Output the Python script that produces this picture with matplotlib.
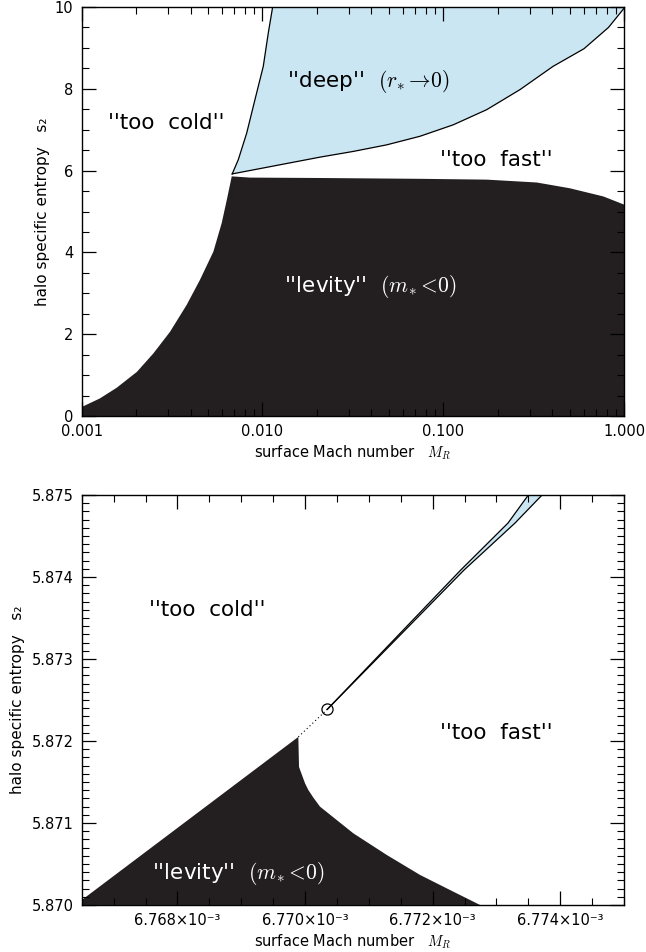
import numpy as np
import matplotlib
matplotlib.use('Agg')
import matplotlib.pyplot as plt
from matplotlib.ticker import MultipleLocator, FixedLocator, FuncFormatter, LogLocator, NullFormatter

plt.rcParams['font.family'] = 'DejaVu Sans'
plt.rcParams['mathtext.fontset'] = 'cm'

BLACK = '#231f20'
BLUE = '#cae6f2'

# ---- top panel: full range ----
# boundary "too cold" / "levity"
cold_lev_x = [0.001, 0.00126, 0.00156, 0.00202, 0.00249, 0.00308, 0.00381, 0.00451,
              0.00535, 0.00595, 0.00635, 0.00676]
cold_lev_y = [0.22, 0.43, 0.69, 1.08, 1.53, 2.06, 2.72, 3.33, 4.02, 4.72, 5.29, 5.86]
# boundary "levity" / "too fast"
lev_fast_x = [0.00676, 0.0085, 0.0208, 0.0743, 0.1738, 0.329, 0.50, 0.767, 1.0]
lev_fast_y = [5.86, 5.83, 5.82, 5.80, 5.78, 5.71, 5.57, 5.37, 5.17]
# boundary "too cold" / "deep"
cold_deep_x = [0.0068, 0.00735, 0.00818, 0.00909, 0.0101, 0.01077, 0.01138]
cold_deep_y = [5.92, 6.27, 6.92, 7.74, 8.55, 9.37, 10.0]
# boundary "deep" / "too fast"
deep_fast_x = [0.0068, 0.0208, 0.0318, 0.0486, 0.0743, 0.1135, 0.1738, 0.2655, 0.405, 0.60, 0.82, 1.0]
deep_fast_y = [5.92, 6.33, 6.47, 6.63, 6.84, 7.12, 7.49, 7.98, 8.55, 8.98, 9.50, 9.97]

# ---- bottom panel: zoom near the triple point (x in units of 1e-3) ----
lev_zoom_x = [6.7665, 6.769895, 6.769906, 6.770000, 6.770052, 6.77013, 6.770235, 6.770757,
              6.771281, 6.771803, 6.772325, 6.772743]
lev_zoom_y = [5.87006, 5.87205, 5.871683, 5.871484, 5.871402, 5.87131, 5.871199, 5.870874,
              5.87061, 5.870366, 5.870162, 5.870]
wedge_left_x = [6.770350, 6.772440, 6.773182, 6.773500]
wedge_left_y = [5.872387, 5.874085, 5.874659, 5.875]
wedge_right_x = [6.770350, 6.772492, 6.773292, 6.773715]
wedge_right_y = [5.872387, 5.874085, 5.874659, 5.875]
triple_x = [6.769895, 6.770350]
triple_y = [5.87205, 5.872387]
circle_x, circle_y = 6.770350, 5.872387

fig = plt.figure(figsize=(6.46, 9.52), dpi=100)
ax1 = fig.add_axes([0.1265, 0.563, 0.8395, 0.4296])
ax2 = fig.add_axes([0.1265, 0.0494, 0.8395, 0.4306])

label_kw = dict(fontsize=15.5, ha='center', va='center')

# top panel
lev_px = cold_lev_x + lev_fast_x[1:] + [1.0, 0.001]
lev_py = cold_lev_y + lev_fast_y[1:] + [0.0, 0.0]
ax1.fill(lev_px, lev_py, color=BLACK, lw=0)
deep_px = cold_deep_x + [1.0] + deep_fast_x[::-1]
deep_py = cold_deep_y + [10.0] + deep_fast_y[::-1]
ax1.fill(deep_px, deep_py, color=BLUE, lw=0)
ax1.plot(cold_deep_x, cold_deep_y, color='black', lw=0.9)
ax1.plot(deep_fast_x, deep_fast_y, color='black', lw=0.9)

ax1.set_xscale('log')
ax1.set_xlim(0.001, 1.0)
ax1.set_ylim(0, 10)
ax1.xaxis.set_major_locator(FixedLocator([0.001, 0.01, 0.1, 1.0]))
ax1.xaxis.set_major_formatter(FuncFormatter(lambda v, p: f'{v:.3f}'))
ax1.xaxis.set_minor_locator(LogLocator(base=10, subs=np.arange(2, 10)))
ax1.xaxis.set_minor_formatter(NullFormatter())
ax1.yaxis.set_major_locator(MultipleLocator(2))
ax1.yaxis.set_minor_locator(MultipleLocator(0.5))

ax1.text(0.00295, 7.17, "''too  cold''", **label_kw)
ax1.text(0.0388, 8.18, r"''deep''  $(r_{\!*}\!\rightarrow\!0)$", **label_kw)
ax1.text(0.197, 6.27, "''too  fast''", **label_kw)
ax1.text(0.0393, 3.17, r"''levity''  $(m_{\!*}\!<\!0)$", color='white', **label_kw)

# bottom panel
ax2.fill(lev_zoom_x + [6.7665], lev_zoom_y + [5.870], color=BLACK, lw=0)
ax2.fill(wedge_left_x + wedge_right_x[::-1], wedge_left_y + wedge_right_y[::-1], color=BLUE, lw=0)
ax2.plot(wedge_left_x, wedge_left_y, color='black', lw=0.9)
ax2.plot(wedge_right_x, wedge_right_y, color='black', lw=0.9)
ax2.plot(triple_x, triple_y, color='black', lw=0.8, ls=(0, (1, 2.5)))
ax2.plot([circle_x], [circle_y], marker='o', ms=8, mfc='none', mec='black', mew=0.9)

ax2.set_xlim(6.7665, 6.775)
ax2.set_ylim(5.870, 5.875)
ax2.xaxis.set_major_locator(MultipleLocator(0.002))
ax2.xaxis.set_minor_locator(MultipleLocator(0.0005))
ax2.xaxis.set_major_formatter(FuncFormatter(lambda v, p: f'{v:.3f}×10⁻³'))
ax2.yaxis.set_major_locator(MultipleLocator(0.001))
ax2.yaxis.set_minor_locator(MultipleLocator(0.0001))
ax2.yaxis.set_major_formatter(FuncFormatter(lambda v, p: f'{v:.3f}'))

ax2.text(6.76847, 5.873598, "''too  cold''", **label_kw)
ax2.text(6.77299, 5.872094, "''too  fast''", **label_kw)
ax2.text(6.76895, 5.870387, r"''levity''  $(m_{\!*}\!<\!0)$", color='white', **label_kw)

for ax in (ax1, ax2):
    ax.tick_params(which='both', direction='in', top=True, right=True, labelsize=10.5, pad=6)
    ax.tick_params(which='major', length=10, width=0.9)
    ax.tick_params(which='minor', length=5, width=0.8)
    for s in ax.spines.values():
        s.set_linewidth(1.0)
    ax.set_xlabel(r'surface Mach number   $\mathit{M_R}$', fontsize=10.5, labelpad=3)

ax1.set_ylabel('halo specific entropy   s₂', fontsize=11)
ax2.set_ylabel('halo specific entropy   s₂', fontsize=11)
ax1.yaxis.set_label_coords(-0.058, 0.5)
ax2.yaxis.set_label_coords(-0.104, 0.5)

fig.savefig('out.png', dpi=100)
